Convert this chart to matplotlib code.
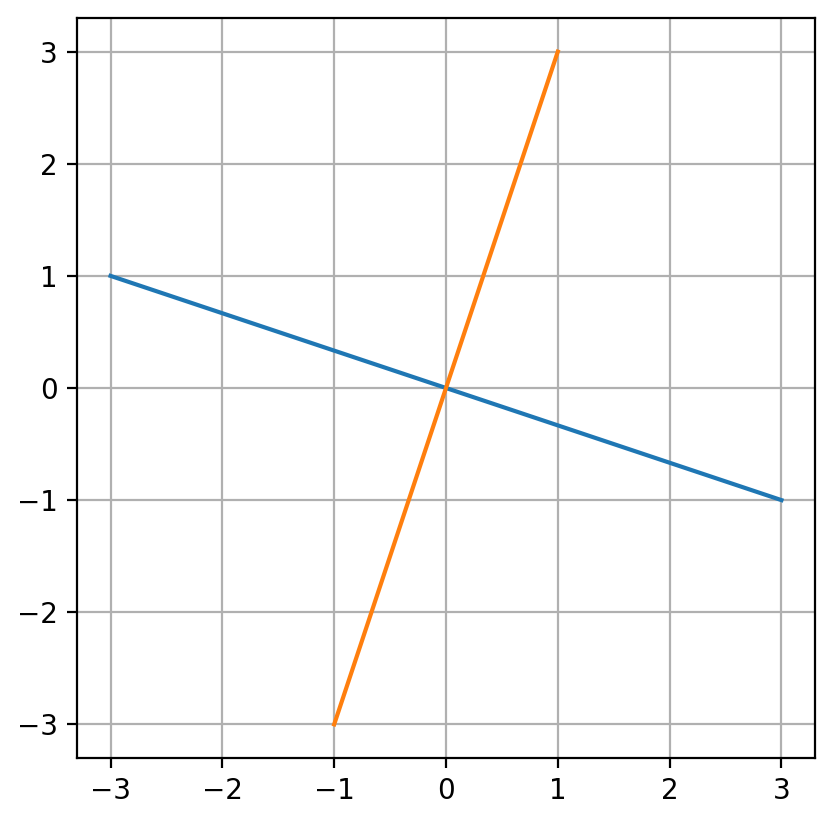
import matplotlib
matplotlib.use("Agg")
import matplotlib.pyplot as plt

# two lines through the origin
blue_x = [-3, 3]
blue_y = [1, -1]
orange_x = [-1, 1]
orange_y = [-3, 3]

fig = plt.figure(figsize=(835 / 200, 822 / 200), dpi=200)
ax = fig.add_axes([77 / 835, 1 - 758 / 822, (815 - 77) / 835, (758 - 18) / 822])
ax.plot(blue_x, blue_y)
ax.plot(orange_x, orange_y)
ax.set_xticks([-3, -2, -1, 0, 1, 2, 3])
ax.set_yticks([-3, -2, -1, 0, 1, 2, 3])
ax.grid(True)
fig.savefig("out.png", dpi=200)
